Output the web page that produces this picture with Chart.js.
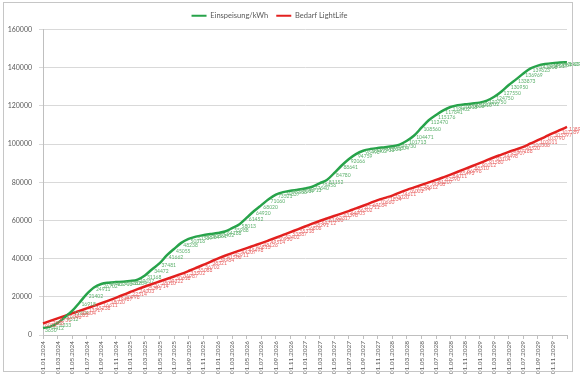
<!DOCTYPE html>
<html>
<head>
<meta charset="utf-8">
<script src="https://cdn.jsdelivr.net/npm/chart.js@4.4.0/dist/chart.umd.min.js"></script>
<style>
  html, body { margin: 0; padding: 0; background: #fff; }
  #wrap { position: relative; width: 580px; height: 377px; }
  #frame { position: absolute; left: 3px; top: 2px; width: 570px; height: 370px; box-sizing: border-box; border: 1px solid #c6c6c6; pointer-events: none; }
</style>
</head>
<body>
<div id="wrap">
  <canvas id="chart" width="580" height="377"></canvas>
  <div id="frame"></div>
</div>
<script>
// ===== Daten =====
const monthLabels = [
  "01.01.2024","01.02.2024","01.03.2024","01.04.2024","01.05.2024","01.06.2024","01.07.2024","01.08.2024","01.09.2024","01.10.2024","01.11.2024","01.12.2024",
  "01.01.2025","01.02.2025","01.03.2025","01.04.2025","01.05.2025","01.06.2025","01.07.2025","01.08.2025","01.09.2025","01.10.2025","01.11.2025","01.12.2025",
  "01.01.2026","01.02.2026","01.03.2026","01.04.2026","01.05.2026","01.06.2026","01.07.2026","01.08.2026","01.09.2026","01.10.2026","01.11.2026","01.12.2026",
  "01.01.2027","01.02.2027","01.03.2027","01.04.2027","01.05.2027","01.06.2027","01.07.2027","01.08.2027","01.09.2027","01.10.2027","01.11.2027","01.12.2027",
  "01.01.2028","01.02.2028","01.03.2028","01.04.2028","01.05.2028","01.06.2028","01.07.2028","01.08.2028","01.09.2028","01.10.2028","01.11.2028","01.12.2028",
  "01.01.2029","01.02.2029","01.03.2029","01.04.2029","01.05.2029","01.06.2029","01.07.2029","01.08.2029","01.09.2029","01.10.2029","01.11.2029","01.12.2029",
  "01.01.2030"
];

// Einspeisung/kWh (kumuliert)
const einspeisung = [
  3650, 4412, 6233, 9312, 12604, 16918, 21402, 24911, 26702, 27402, 27716, 27910,
  28284, 29037, 31168, 34472, 37481, 41662, 45055, 48238, 50316, 51539, 52284, 52861,
  53402, 54188, 55988, 58013, 61452, 64920, 68020, 71060, 73521, 74837, 75563, 76089,
  76713, 77640, 79456, 81152, 84780, 88641, 92066, 94759, 96498, 97402, 97933, 98321,
  98804, 99730, 101713, 104471, 108560, 112470, 115176, 117641, 119402, 120318, 120826, 121215,
  121702, 122750, 124750, 127550, 130950, 133873, 136969, 139623, 141108, 141921, 142387, 142661,
  142903
];

// Bedarf LightLife (kumuliert)
const bedarf = [
  6012, 7388, 8731, 10046, 11322, 12604, 13917, 15238, 16611, 18020, 19487, 20998,
  22514, 24003, 25391, 26714, 28010, 29322, 30618, 31987, 33502, 35088, 36702, 38321,
  39984, 41506, 42911, 44207, 45498, 46813, 48126, 49514, 50930, 52402, 53887, 55318,
  56806, 58291, 59712, 61020, 62317, 63598, 64905, 66302, 67711, 69184, 70660, 71834,
  73020, 74611, 76003, 77294, 78612, 79908, 81207, 82590, 84011, 85493, 86996, 88510,
  90012, 91580, 93104, 94498, 95907, 97188, 98520, 100306, 102011, 103790, 105597, 107289,
  108950
];

const yTicks = [0, 20000, 40000, 60000, 80000, 100000, 120000, 140000, 160000];

// ===== Farben =====
const GREEN = "#27a34a";
const GREEN_LABEL = "#5cb06c";
const RED = "#e3201f";
const RED_LABEL = "#e86464";
const TEXT = "#595959";
const GRID = "#d9d9d9";

// Legende etwas nach links (wie im Original)
const legendShift = {
  id: "legendShift",
  afterLayout(chart) {
    chart.legend.left -= 14;
    chart.legend.right -= 14;
  }
};

// Datenbeschriftungen rechts neben jedem Punkt
const valueLabels = {
  id: "valueLabels",
  afterDatasetsDraw(chart) {
    const ctx = chart.ctx;
    ctx.save();
    ctx.font = "5px Lato";
    ctx.textAlign = "left";
    ctx.textBaseline = "middle";
    chart.data.datasets.forEach((ds, i) => {
      const meta = chart.getDatasetMeta(i);
      ctx.fillStyle = ds.labelColor;
      meta.data.forEach((pt, j) => {
        ctx.fillText(String(ds.data[j]), pt.x + 2, pt.y + 2);
      });
    });
    ctx.restore();
  }
};

new Chart(document.getElementById("chart"), {
  type: "line",
  data: {
    labels: monthLabels,
    datasets: [
      {
        label: "Einspeisung/kWh",
        data: einspeisung,
        borderColor: GREEN,
        backgroundColor: GREEN,
        labelColor: GREEN_LABEL,
        borderWidth: 2.5,
        pointRadius: 0,
        cubicInterpolationMode: "monotone",
        fill: false
      },
      {
        label: "Bedarf LightLife",
        data: bedarf,
        borderColor: RED,
        backgroundColor: RED,
        labelColor: RED_LABEL,
        borderWidth: 2.5,
        pointRadius: 0,
        cubicInterpolationMode: "monotone",
        fill: false
      }
    ]
  },
  options: {
    responsive: false,
    animation: false,
    devicePixelRatio: 1,
    layout: { padding: { top: 4, right: 13, left: 0, bottom: 0 } },
    plugins: {
      legend: {
        position: "top",
        labels: {
          boxWidth: 15,
          boxHeight: 2,
          padding: 8,
          color: TEXT,
          font: { family: "Lato", size: 7.5 },
          generateLabels: (chart) =>
            Chart.defaults.plugins.legend.labels.generateLabels(chart).map(l => ({ ...l, lineWidth: 0 }))
        }
      },
      tooltip: { enabled: false }
    },
    scales: {
      x: {
        type: "category",
        offset: false,
        afterFit(scale) { scale.height = 42; },
        grid: {
          drawOnChartArea: false,
          drawTicks: true,
          tickLength: 4,
          color: (c) => (c.index % 2 === 0 ? "#bfbfbf" : "rgba(0,0,0,0)")
        },
        border: { color: "#bfbfbf" },
        ticks: {
          autoSkip: false,
          minRotation: 90,
          maxRotation: 90,
          padding: 2,
          color: TEXT,
          font: { family: "Lato", size: 6.5 },
          callback: (v, i) => (i % 2 === 0 && i < monthLabels.length - 1 ? monthLabels[i] : "")
        }
      },
      y: {
        min: 0,
        max: 160000,
        afterFit(scale) { scale.width = 43; },
        afterBuildTicks(scale) { scale.ticks = yTicks.map(v => ({ value: v })); },
        grid: { color: GRID, tickLength: 4 },
        border: { color: "#bfbfbf" },
        ticks: {
          padding: 7,
          color: TEXT,
          font: { family: "Lato", size: 7 },
          callback: (v) => String(v)
        }
      }
    }
  },
  plugins: [legendShift, valueLabels]
});
</script>
</body>
</html>
